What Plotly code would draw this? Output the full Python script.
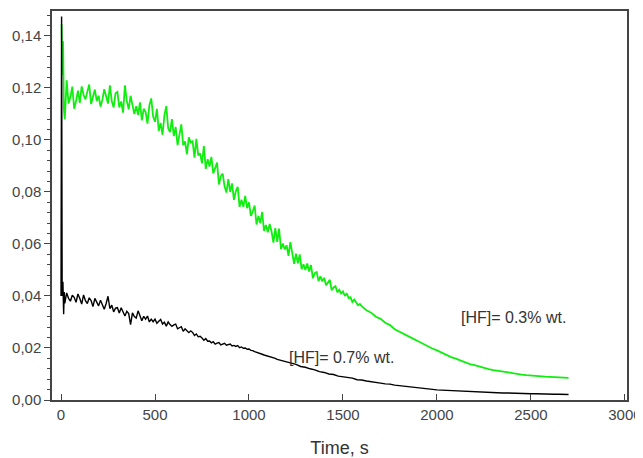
import plotly.graph_objects as go

# ---- data ----
# [HF] = 0.3 % wt. (green)
green_start_t = [3, 7, 11, 15]
green_start_v = [0.1445, 0.1250, 0.1380, 0.1120]
green_fine_t0, green_fine_dt = 20, 10
green_fine_v = [
    0.1080, 0.1230, 0.1140, 0.1165, 0.1205, 0.1120, 0.1150, 0.1190,
    0.1143, 0.1206, 0.1173, 0.1156, 0.1186, 0.1213, 0.1138, 0.1170, 0.1194, 0.1150,
    0.1170, 0.1128, 0.1155, 0.1195, 0.1172, 0.1140, 0.1210, 0.1150, 0.1125, 0.1180,
    0.1185, 0.1125, 0.1148, 0.1105, 0.1210, 0.1150, 0.1118, 0.1170, 0.1135, 0.1100,
    0.1130, 0.1097, 0.1145, 0.1075, 0.1120, 0.1107, 0.1063, 0.1133, 0.1160, 0.1090,
    0.1070, 0.1120, 0.1035, 0.1065, 0.1020, 0.1095, 0.1130, 0.1045, 0.1030, 0.1080,
    0.1015, 0.1050, 0.0980, 0.1025, 0.1060, 0.0980, 0.0995, 0.0945, 0.1010, 0.0990,
    0.0995, 0.0932, 0.1004, 0.0941, 0.0948, 0.0910, 0.0977, 0.0889, 0.0926, 0.0898,
    0.0935, 0.0871, 0.0892, 0.0913, 0.0829, 0.0860, 0.0871, 0.0822, 0.0798, 0.0849,
    0.0800, 0.0833, 0.0770, 0.0803, 0.0820, 0.0743, 0.0770, 0.0743, 0.0785, 0.0738,
    0.0760, 0.0708, 0.0725, 0.0748, 0.0675, 0.0708, 0.0680, 0.0723, 0.0650, 0.0673,
    0.0645, 0.0677, 0.0648, 0.0605, 0.0661, 0.0608, 0.0659, 0.0581, 0.0602, 0.0579,
    0.0595, 0.0554, 0.0607, 0.0556, 0.0524, 0.0563, 0.0526, 0.0560, 0.0503, 0.0522,
    0.0500, 0.0525, 0.0494, 0.0519, 0.0468, 0.0488, 0.0492, 0.0457, 0.0476, 0.0456,
    0.0470, 0.0441, 0.0451, 0.0462, 0.0422, 0.0433, 0.0438, 0.0414, 0.0424, 0.0410,
    0.0418, 0.0400, 0.0410, 0.0392, 0.0395, 0.0377, 0.0386, 0.0375, 0.0364, 0.0369,
    0.0360,
]
green_tail_t0, green_tail_dt = 1625, 25
green_tail_v = [
    0.0345, 0.0336, 0.0320, 0.0312, 0.0297, 0.0288, 0.0272, 0.0262, 0.0252, 0.0242,
    0.0235, 0.0226, 0.0216, 0.0208, 0.0198, 0.0191, 0.0182, 0.0175, 0.0165, 0.0159,
    0.0151, 0.0146, 0.0138, 0.0134, 0.0128, 0.0124, 0.0119, 0.0115, 0.0112, 0.0108,
    0.0105, 0.0102, 0.0100, 0.0098, 0.0096, 0.0094, 0.0093, 0.0091, 0.0090, 0.0089,
    0.0088, 0.0087, 0.0086, 0.0085,
]

# [HF] = 0.7 % wt. (black)
black_start_t = [0, 3, 6, 10, 14, 17]
black_start_v = [0.0400, 0.1475, 0.0400, 0.0455, 0.0330, 0.0415]
black_fine_t0, black_fine_dt = 20, 10
black_fine_v = [
    0.0372, 0.0412, 0.0391, 0.0380, 0.0403, 0.0395, 0.0376, 0.0408,
    0.0390, 0.0369, 0.0404, 0.0382, 0.0371, 0.0393, 0.0382, 0.0359, 0.0391, 0.0375,
    0.0362, 0.0384, 0.0367, 0.0349, 0.0371, 0.0399, 0.0351, 0.0365, 0.0339, 0.0353,
    0.0355, 0.0335, 0.0355, 0.0335, 0.0323, 0.0341, 0.0332, 0.0290, 0.0335, 0.0321,
    0.0315, 0.0343, 0.0322, 0.0305, 0.0322, 0.0311, 0.0323, 0.0300, 0.0311, 0.0301,
    0.0311, 0.0295, 0.0303, 0.0310, 0.0292, 0.0299, 0.0284, 0.0300, 0.0290, 0.0283,
    0.0289, 0.0292, 0.0274, 0.0279, 0.0282, 0.0264, 0.0274, 0.0266, 0.0259, 0.0266,
    0.0260, 0.0248, 0.0254, 0.0243, 0.0245, 0.0238, 0.0230, 0.0236, 0.0226, 0.0227,
    0.0220, 0.0224, 0.0215, 0.0219, 0.0221, 0.0212, 0.0216, 0.0218, 0.0211, 0.0214,
    0.0215, 0.0208, 0.0210, 0.0206, 0.0209, 0.0201, 0.0204, 0.0199, 0.0200, 0.0195,
    0.0196, 0.0191, 0.0190, 0.0186, 0.0184, 0.0181, 0.0179, 0.0176, 0.0173, 0.0171,
    0.0169, 0.0166, 0.0164, 0.0161, 0.0160, 0.0156, 0.0154, 0.0152, 0.0150, 0.0147,
    0.0146,
]
black_tail_t0, black_tail_dt = 1225, 25
black_tail_v = [
    0.0141, 0.0137, 0.0129, 0.0126, 0.0120, 0.0116, 0.0109, 0.0106, 0.0100, 0.0098,
    0.0092, 0.0090, 0.0086, 0.0084, 0.0078, 0.0077, 0.0073, 0.0071, 0.0067, 0.0065,
    0.0062, 0.0061, 0.0057, 0.0055, 0.0052, 0.0050, 0.0047, 0.0045, 0.0044, 0.0042,
    0.0040, 0.0039, 0.0038, 0.0037, 0.0036, 0.0035, 0.0034, 0.0033, 0.0032, 0.0031,
    0.0030, 0.0030, 0.0029, 0.0028, 0.0028, 0.0027, 0.0027, 0.0026, 0.0026, 0.0025,
    0.0025, 0.0024, 0.0024, 0.0023, 0.0023, 0.0022, 0.0022, 0.0022, 0.0021, 0.0021,
]

x_tick_vals = [0, 500, 1000, 1500, 2000, 2500, 3000]
x_tick_text = ["0", "500", "1000", "1500", "2000", "2500", "3000"]
y_tick_vals = [0.00, 0.02, 0.04, 0.06, 0.08, 0.10, 0.12, 0.14]
y_tick_text = ["0,00", "0,02", "0,04", "0,06", "0,08", "0,10", "0,12", "0,14"]

labels = ["[HF]= 0.3% wt.", "[HF]= 0.7% wt."]
label_pos_t = [2405, 1490]
label_pos_v = [0.0318, 0.0164]


def sampled(t0, dt, vals):
    return [t0 + dt * i for i in range(len(vals))]


green_t = green_start_t + sampled(green_fine_t0, green_fine_dt, green_fine_v) + \
    sampled(green_tail_t0, green_tail_dt, green_tail_v)
green_v = green_start_v + green_fine_v + green_tail_v
black_t = black_start_t + sampled(black_fine_t0, black_fine_dt, black_fine_v) + \
    sampled(black_tail_t0, black_tail_dt, black_tail_v)
black_v = black_start_v + black_fine_v + black_tail_v

fig = go.Figure()
fig.add_trace(go.Scatter(x=green_t, y=green_v, mode="lines",
                         line=dict(color="#10ee10", width=1.8), showlegend=False))
fig.add_trace(go.Scatter(x=black_t, y=black_v, mode="lines",
                         line=dict(color="#000000", width=1.4), showlegend=False))

for txt, tx, ty in zip(labels, label_pos_t, label_pos_v):
    fig.add_annotation(x=tx, y=ty, text=txt, showarrow=False,
                       font=dict(family="Liberation Sans, Arial", size=16, color="#333333"))

axis_font = dict(family="Liberation Sans, Arial", size=15, color="#444444")
# the page body adds an 8px margin, so the figure is 8px smaller and margins shifted
fig.update_layout(
    width=635, height=450,
    margin=dict(l=44, r=16, t=3, b=58),
    paper_bgcolor="white", plot_bgcolor="white",
    xaxis=dict(range=[-48, 3011], tickvals=x_tick_vals, ticktext=x_tick_text,
               ticks="inside", ticklen=6, tickcolor="#444444", tickwidth=1,
               showgrid=False, zeroline=False, showline=True, mirror=True,
               linecolor="#444444", linewidth=1.5, tickfont=axis_font,
               automargin=False,
               title=dict(text="Time, s", standoff=20,
                          font=dict(family="Liberation Sans, Arial", size=18, color="#333333"))),
    yaxis=dict(range=[0, 0.1496], tickvals=y_tick_vals, ticktext=y_tick_text,
               ticks="outside", ticklen=6, tickcolor="#444444", tickwidth=1,
               minor=dict(dtick=0.004, tick0=0, ticks="outside", ticklen=3,
                          tickcolor="#444444"),
               showgrid=False, zeroline=False, showline=True, mirror=True,
               linecolor="#444444", linewidth=1.5, tickfont=axis_font,
               automargin=False),
)

fig.write_html("out.html")
